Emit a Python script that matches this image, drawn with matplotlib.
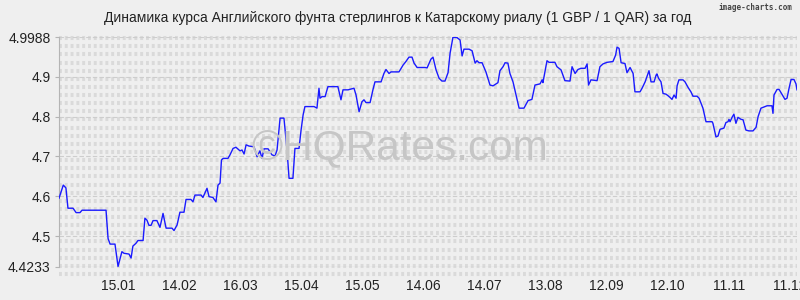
import numpy as np
import pandas as pd
import matplotlib
matplotlib.use("Agg")
from matplotlib import pyplot as plt

plt.rcParams["font.family"] = ["Liberation Sans", "DejaVu Sans"]

# GBP/QAR, days counted from 17.12.2014
start = pd.Timestamp("2014-12-17")
days = [
    0, 2.1, 3.4, 4.4, 6.9, 8.4, 10.3, 11.3, 23.1, 24.1, 25.1, 27.5, 29.0, 30.9,
    31.9, 34.4, 35.4, 36.3, 37.8, 38.8, 41.3, 42.2, 43.2, 44.2, 45.2, 46.2,
    48.1, 49.6, 51.1, 52.6, 55.5, 56.5, 58.0, 59.4, 61.4, 62.4, 64.8, 65.8,
    66.8, 69.8, 70.7, 72.7, 73.7, 75.6, 77.1, 78.1, 79.1, 79.8, 80.6, 83.0,
    84.0, 85.5, 86.9, 88.9, 89.9, 90.9, 91.9, 93.3, 95.8, 97.3, 98.7, 99.7,
    100.7, 102.7, 104.6, 106.1, 107.1, 108.6, 110.5, 112.0, 113.0, 114.9,
    115.9, 117.9, 118.9, 119.9, 120.8, 125.3, 126.7, 127.7, 128.2, 129.2,
    130.7, 132.1, 137.0, 138.5, 139.5, 142.0, 144.9, 145.9, 147.4, 148.8,
    149.8, 150.8, 152.8, 154.2, 155.2, 158.2, 159.6, 160.6, 162.1, 163.1,
    167.0, 169.0, 170.4, 171.9, 173.4, 174.4, 175.9, 179.8, 180.8, 182.7,
    183.7, 185.2, 186.7, 188.1, 189.6, 191.1, 192.1, 193.0, 193.5, 195.5,
    197.0, 198.0, 198.9, 201.4, 202.9, 204.4, 205.3, 206.3, 207.8, 209.7,
    211.7, 213.2, 215.6, 216.6, 218.1, 219.1, 220.5, 221.5, 223.0, 224.5,
    226.0, 228.4, 230.4, 232.3, 233.8, 236.3, 237.3, 237.7, 239.7, 240.7,
    243.6, 244.6, 246.6, 248.5, 251.0, 252.0, 253.5, 254.9, 256.4, 258.4,
    259.4, 260.1, 261.3, 264.3, 265.7, 267.2, 269.2, 272.1, 273.4, 274.1,
    275.1, 276.1, 278.0, 279.0, 280.5, 282.0, 282.9, 285.4, 286.4, 287.9,
    288.8, 289.8, 290.8, 292.3, 293.3, 293.7, 294.5, 295.7, 296.7, 298.2,
    299.2, 300.1, 301.1, 302.1, 303.1, 303.6, 304.5, 306.5, 307.5, 309.0,
    310.4, 311.4, 313.4, 314.4, 316.3, 317.8, 320.8, 321.2, 322.7, 323.7,
    324.7, 326.6, 327.6, 328.6, 329.1, 329.6, 330.6, 331.5, 332.5, 333.5,
    335.0, 336.0, 337.4, 338.9, 340.9, 342.4, 343.4, 344.8, 347.8, 350.2,
    350.7, 351.2, 352.7, 353.7, 355.1, 356.6, 357.6, 358.6, 359.6, 361.0,
    362.0, 362.5,
]
rates = [
    4.595, 4.628, 4.621, 4.570, 4.570, 4.559, 4.559, 4.565, 4.565, 4.494,
    4.480, 4.480, 4.424, 4.461, 4.457, 4.455, 4.445, 4.475, 4.482, 4.489,
    4.489, 4.545, 4.540, 4.527, 4.527, 4.539, 4.539, 4.522, 4.557, 4.520,
    4.520, 4.514, 4.528, 4.560, 4.560, 4.592, 4.592, 4.586, 4.603, 4.603,
    4.597, 4.620, 4.599, 4.597, 4.586, 4.628, 4.633, 4.691, 4.695, 4.695,
    4.704, 4.720, 4.723, 4.714, 4.716, 4.706, 4.729, 4.726, 4.724, 4.699,
    4.714, 4.695, 4.719, 4.719, 4.704, 4.701, 4.716, 4.796, 4.796, 4.716,
    4.645, 4.645, 4.720, 4.720, 4.766, 4.804, 4.825, 4.825, 4.821, 4.871,
    4.846, 4.850, 4.850, 4.875, 4.875, 4.842, 4.867, 4.867, 4.871, 4.854,
    4.812, 4.837, 4.842, 4.835, 4.835, 4.867, 4.887, 4.887, 4.908, 4.918,
    4.908, 4.912, 4.912, 4.929, 4.938, 4.949, 4.949, 4.934, 4.923, 4.923,
    4.922, 4.944, 4.949, 4.917, 4.896, 4.889, 4.889, 4.910, 4.959, 4.984,
    4.9988, 4.998, 4.992, 4.952, 4.969, 4.969, 4.965, 4.934, 4.940, 4.935,
    4.935, 4.912, 4.879, 4.877, 4.885, 4.915, 4.925, 4.935, 4.934, 4.908,
    4.887, 4.854, 4.821, 4.821, 4.840, 4.843, 4.879, 4.882, 4.892, 4.885,
    4.940, 4.936, 4.936, 4.925, 4.917, 4.890, 4.889, 4.925, 4.908, 4.918,
    4.921, 4.921, 4.932, 4.879, 4.892, 4.890, 4.925, 4.932, 4.936, 4.938,
    4.954, 4.974, 4.971, 4.935, 4.933, 4.910, 4.923, 4.908, 4.862, 4.862,
    4.871, 4.887, 4.900, 4.915, 4.887, 4.887, 4.904, 4.907, 4.896, 4.887,
    4.858, 4.856, 4.852, 4.848, 4.843, 4.854, 4.846, 4.877, 4.892, 4.892,
    4.887, 4.873, 4.862, 4.851, 4.851, 4.846, 4.821, 4.787, 4.787, 4.783,
    4.749, 4.751, 4.768, 4.771, 4.785, 4.787, 4.793, 4.787, 4.798, 4.806,
    4.783, 4.798, 4.793, 4.792, 4.766, 4.764, 4.764, 4.773, 4.800, 4.821,
    4.827, 4.827, 4.808, 4.854, 4.868, 4.868, 4.856, 4.843, 4.846, 4.871,
    4.893, 4.893, 4.882, 4.867,
]
y_ticks = [4.4233, 4.5, 4.6, 4.7, 4.8, 4.9, 4.9988]
y_labels = ["4.4233", "4.5", "4.6", "4.7", "4.8", "4.9", "4.9988"]
x_labels = ["15.01", "14.02", "16.03", "15.04", "15.05", "14.06",
            "14.07", "13.08", "12.09", "12.10", "11.11", "11.12"]
title = ("Динамика курса Английского фунта стерлингов к Катарскому риалу "
         "(1 GBP / 1 QAR) за год")

ymin, ymax = y_ticks[0], y_ticks[-1]
xmax = 362.5
bg = "#efefef"

fig = plt.figure(figsize=(8, 3), dpi=100, facecolor=bg)
ax = fig.add_axes([0.07375, 0.111, 0.9225, 0.7647])
ax.set_facecolor(bg)

# textured grid rows (vertical dash texture every ~8 px)
px = (ymax - ymin) / (0.7647 * 300)
for k in range(30):
    yv = ymax - (0.9 + 8.13 * k) * px
    ax.plot([0, xmax], [yv, yv], color="#dadada", lw=2.9,
            linestyle=(0, (0.72, 0.72)), zorder=1, clip_on=False,
            solid_capstyle="butt", dash_capstyle="butt")
for yv in y_ticks[1:]:
    ax.axhline(yv, color="#cdcdcd", lw=0.8, linestyle=(0, (4, 2)), zorder=1.5)
ax.axhline(ymin, color="#b4b4b4", lw=0.8, zorder=1.5)

fig.text(0.5, 0.505, "©HQRates.com", ha="center", va="center",
         fontsize=30.5, color="#c6c6c6", zorder=2)

ax.plot(days, rates, color="#1a1aff", lw=1.0, zorder=3)

tick_pos = [(pd.Timestamp(f"2015-{s[3:]}-{s[:2]}") - start).days
            for s in x_labels]
ax.set_xticks(tick_pos)
ax.set_xticklabels(x_labels)
ax.set_yticks(y_ticks)
ax.set_yticklabels(y_labels)
ax.set_xlim(0, xmax)
ax.set_ylim(ymin, ymax)
ax.tick_params(axis="x", length=0, pad=9, labelsize=10, colors="#222222")
ax.tick_params(axis="y", length=3, width=0.8, color="#b4b4b4", pad=3,
               labelsize=10, labelcolor="#222222")
for side in ["top", "right", "bottom"]:
    ax.spines[side].set_visible(False)
ax.spines["left"].set_color("#b4b4b4")
ax.spines["left"].set_linewidth(0.8)

fig.text(0.4975, 0.94, title, ha="center", va="center", fontsize=10,
         color="#222222")
fig.text(0.99, 0.975, "image-charts.com", ha="right", va="center",
         fontsize=5.5, family="DejaVu Sans Mono", weight="bold",
         color="#444444")

fig.savefig("out.png", dpi=100, facecolor=bg)
